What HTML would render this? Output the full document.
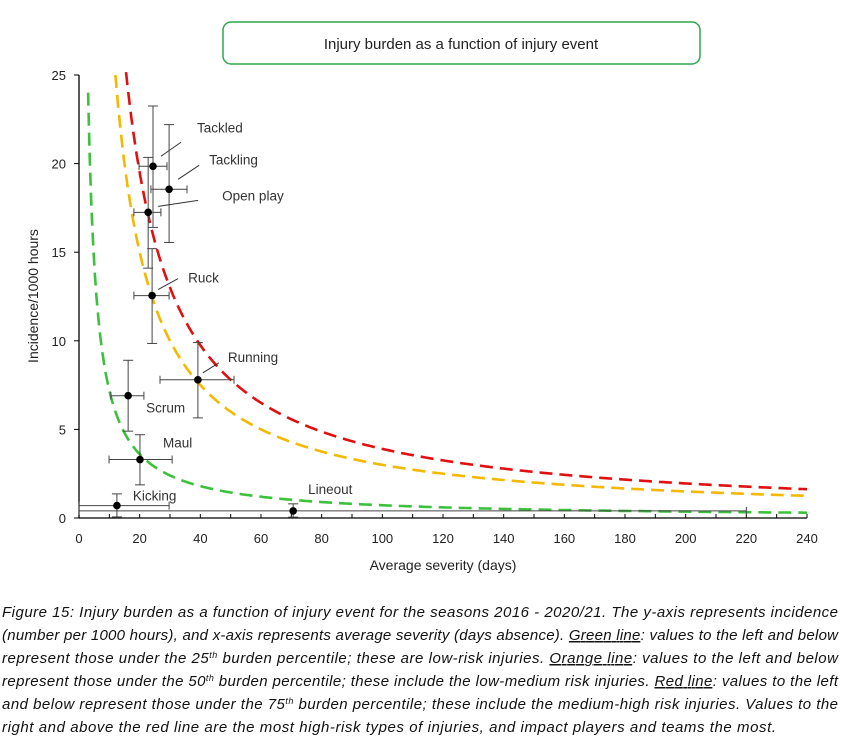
<!DOCTYPE html>
<html><head><meta charset="utf-8"><style>
html,body{margin:0;padding:0;background:#fff;}
svg{display:block;font-family:"Liberation Sans",sans-serif;}
</style></head><body>
<svg id="c" width="858" height="740" viewBox="0 0 858 740">
<rect x="223" y="22" width="477" height="42" rx="8" fill="#fff" stroke="#2ea84a" stroke-width="1.5"/>
<text x="461" y="49" text-anchor="middle" font-size="15" fill="#222">Injury burden as a function of injury event</text>
<g id="plot"></g>
<text x="443" y="570" text-anchor="middle" font-size="14" fill="#222">Average severity (days)</text>
<text transform="translate(38,296) rotate(-90)" text-anchor="middle" font-size="14" fill="#222">Incidence/1000 hours</text>
<g font-style="italic" font-size="15" fill="#111">
<text x="2" y="617" textLength="836" lengthAdjust="spacing">Figure 15: Injury burden as a function of injury event for the seasons 2016 - 2020/21. The y-axis represents incidence</text>
<text x="2" y="640" textLength="836" lengthAdjust="spacing">(number per 1000 hours), and x-axis represents average severity (days absence). <tspan text-decoration="underline">Green line</tspan>: values to the left and below</text>
<text x="2" y="663" textLength="836" lengthAdjust="spacing">represent those under the 25<tspan font-size="9" dy="-5">th</tspan><tspan dy="5"> burden percentile; these are low-risk injuries. </tspan><tspan text-decoration="underline">Orange line</tspan>: values to the left and below</text>
<text x="2" y="686" textLength="836" lengthAdjust="spacing">represent those under the 50<tspan font-size="9" dy="-5">th</tspan><tspan dy="5"> burden percentile; these include the low-medium risk injuries. </tspan><tspan text-decoration="underline">Red line</tspan>: values to the left</text>
<text x="2" y="709" textLength="836" lengthAdjust="spacing">and below represent those under the 75<tspan font-size="9" dy="-5">th</tspan><tspan dy="5"> burden percentile; these include the medium-high risk injuries. Values to the</text>
<text x="2" y="732" textLength="774" lengthAdjust="spacing">right and above the red line are the most high-risk types of injuries, and impact players and teams the most.</text>
</g>
</svg>
<script>
const categories=["Tackled","Tackling","Open play","Ruck","Running","Scrum","Maul","Kicking","Lineout"];
const severity=[24.4,29.7,22.8,24.1,39.2,16.2,20.1,12.5,70.6];
const sevLow=[19.8,23.7,18.1,18.1,26.7,10.5,9.9,0,0];
const sevHigh=[29,35.6,27,29.7,51.1,21.4,30.7,29.7,220];
const incidence=[19.85,18.55,17.25,12.55,7.8,6.9,3.3,0.7,0.4];
const incLow=[16.4,15.55,14.1,9.85,5.65,4.9,1.87,0.06,0.05];
const incHigh=[23.25,22.2,20.35,15.2,9.9,8.9,4.7,1.36,0.8];
const curveK=[72,300,390];
const curveNames=["green-25th-percentile-line","orange-50th-percentile-line","red-75th-percentile-line"];
const curveColors=["#3cc13c","#f5b800","#e01010"];
const xTicks=[0,20,40,60,80,100,120,140,160,180,200,220,240];
const yTicks=[0,5,10,15,20,25];
const labelOff=[[44,-34],[40,-25],[74,-12],[36,-13],[30,-18],[18,17],[23,-12],[16,-5],[15,-17]];
const leaderOff=[[[8,-10],[28,-24]],[[9,-10],[30,-24]],[[10,-6],[50,-12]],[[6,-6],[26,-17]],[[5,-7],[21,-17]],null,null,null,null];

const X0=79,X1=807,Y0=518,Y1=75;
const sx=v=>X0+(v/240)*(X1-X0);
const sy=v=>Y0-(v/25)*(Y0-Y1);
const NS="http://www.w3.org/2000/svg";
const g=document.getElementById('plot');
function mk(t,a,parent){const e=document.createElementNS(NS,t);for(const k in a)e.setAttribute(k,a[k]);(parent||g).appendChild(e);return e;}

let ax=mk('line',{x1:X0,y1:Y0,x2:X1,y2:Y0,stroke:'#000','stroke-width':1.3});


let ay=mk('line',{x1:X0,y1:Y0,x2:X0,y2:Y1,stroke:'#000','stroke-width':1.3});


for(let v=10;v<=240;v+=10){mk('line',{x1:sx(v),y1:Y0,x2:sx(v),y2:Y0-4,stroke:'#000'});}
xTicks.forEach(v=>{const t=mk('text',{x:sx(v),y:Y0+25,'text-anchor':'middle','font-size':13,fill:'#222'});t.textContent=v;

});
yTicks.forEach(v=>{mk('line',{x1:X0-5,y1:sy(v),x2:X0,y2:sy(v),stroke:'#000'});
const t=mk('text',{x:X0-13,y:sy(v)+5,'text-anchor':'end','font-size':13,fill:'#222'});t.textContent=v;

});

curveK.forEach((k,i)=>{let d='';let started=false;
for(let x=0.5;x<=240;x+=0.25){let y=k/x;if(y>25.3)continue;d+=(started?'L':'M')+sx(x).toFixed(1)+','+sy(y).toFixed(1);started=true;}
const p=mk('path',{d:d,fill:'none',stroke:curveColors[i],'stroke-width':2.6,'stroke-dasharray':'13,7'});

});

categories.forEach((c,i)=>{
const px=sx(severity[i]),py=sy(incidence[i]);
const eg=mk('g',{stroke:'#444','stroke-width':1});


mk('line',{x1:sx(sevLow[i]),y1:py,x2:sx(sevHigh[i]),y2:py},eg);
mk('line',{x1:sx(sevLow[i]),y1:py-4,x2:sx(sevLow[i]),y2:py+4},eg);
mk('line',{x1:sx(sevHigh[i]),y1:py-4,x2:sx(sevHigh[i]),y2:py+4},eg);
mk('line',{x1:px,y1:sy(incLow[i]),x2:px,y2:sy(incHigh[i])},eg);
mk('line',{x1:px-5,y1:sy(incLow[i]),x2:px+5,y2:sy(incLow[i])},eg);
mk('line',{x1:px-5,y1:sy(incHigh[i]),x2:px+5,y2:sy(incHigh[i])},eg);
const dot=mk('circle',{cx:px,cy:py,r:3.8,fill:'#000'});


if(leaderOff[i]){const l=leaderOff[i];mk('line',{x1:px+l[0][0],y1:py+l[0][1],x2:px+l[1][0],y2:py+l[1][1],stroke:'#333'});}
const t=mk('text',{x:px+labelOff[i][0],y:py+labelOff[i][1],'font-size':13.5,fill:'#333'});t.textContent=c;


});
</script>
</body></html>
